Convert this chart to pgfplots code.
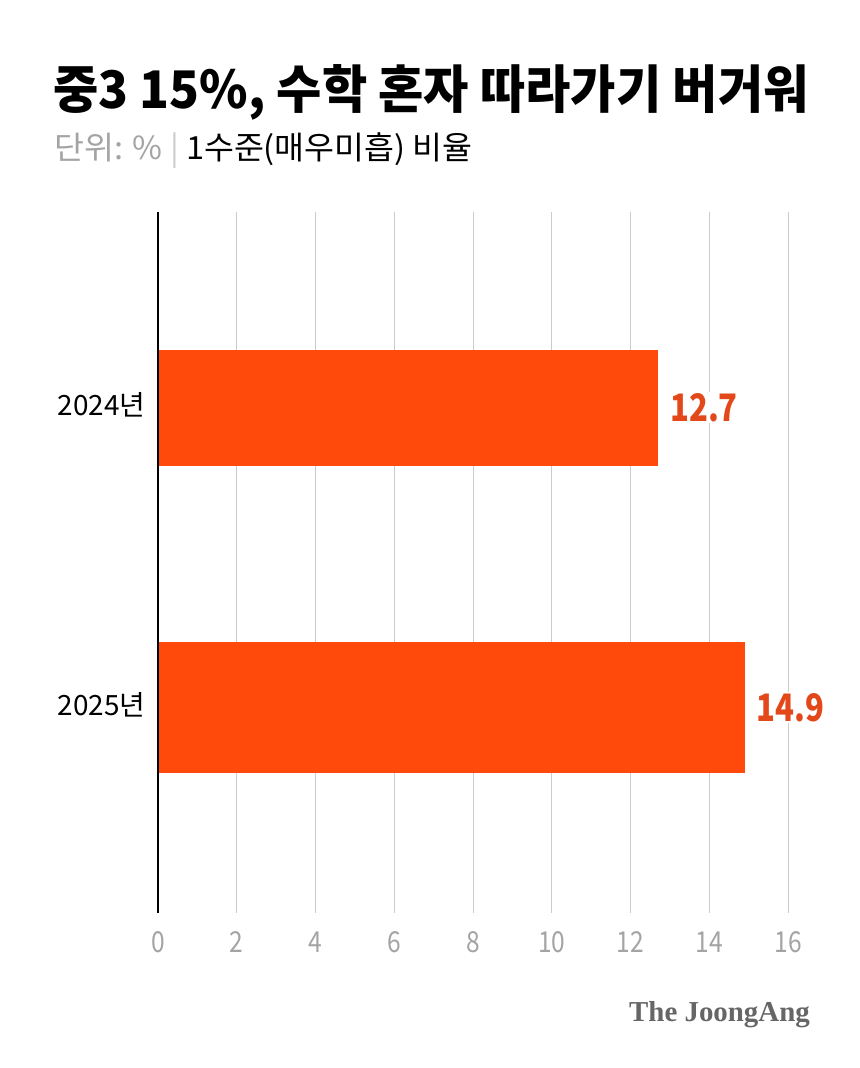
\documentclass[border=0pt]{standalone}
\usepackage{fontspec}
\usepackage{pgfplots}
\pgfplotsset{compat=1.18}
\setmainfont{Noto Sans CJK KR}
\newfontfamily\joong{Liberation Serif}
\definecolor{barc}{HTML}{FF4A0C}
\definecolor{labc}{HTML}{E2481A}
\definecolor{tickc}{HTML}{A4A4A4}
\definecolor{gridc}{HTML}{CCCCCC}
\begin{document}
\begin{tikzpicture}
\path[use as bounding box] (0bp,0bp) rectangle (860bp,-1068bp);
\fill[white] (0bp,0bp) rectangle (860bp,-1068bp);
\node[anchor=west,inner sep=0] at (53bp,-92bp) {\scalebox{0.95}[1]{\fontsize{52}{52}\selectfont\bfseries 중3 15\%, 수학 혼자 따라가기 버거워}};
\node[anchor=west,inner sep=0] at (54bp,-151bp) {\scalebox{1.02}[1]{\fontsize{32}{32}\selectfont{\color{tickc}단위: \%} {\color{gridc}|} 1수준(매우미흡) 비율}};
\begin{axis}[
  at={(158bp,-212bp)}, anchor=north west,
  scale only axis, width=630bp, height=701bp,
  xbar,
  xmin=0, xmax=16, ymin=0.347, ymax=2.683,
  y dir=reverse,
  axis line style={draw=none},
  xtick={0,2,...,16}, xticklabels={},
  ytick={0.99,1.99},
  yticklabels={2024년,2025년},
  clip=false,
  enlargelimits=false,
  tick style={draw=none},
  yticklabel style={font=\fontsize{28}{28}\selectfont, xshift=-5bp},
  point meta=explicit symbolic,
  nodes near coords={\scalebox{0.82}[1]{\pgfplotspointmeta}},
  nodes near coords style={font=\fontsize{38}{38}\selectfont\bfseries, color=labc, fill=white, inner sep=1bp, anchor=west, xshift=11bp},
]
\pgfplotsinvokeforeach{2,4,...,16}{\draw[gridc, line width=1bp] (axis cs:#1,0.347) -- (axis cs:#1,2.683);}
\pgfplotsinvokeforeach{0,2,...,16}{\node[tickc, font=\fontsize{29}{29}\selectfont, anchor=center] at ([yshift=-29bp]axis cs:#1,2.683) {\scalebox{0.85}[1]{#1}};}
\addplot[fill=barc, draw=none, bar width=116bp, bar shift=0pt] coordinates {(12.7,0.9985) [12.7]};
\addplot[fill=barc, draw=none, bar width=131bp, bar shift=0pt] coordinates {(14.9,1.9985) [14.9]};
\draw[black, line width=1.5bp] (axis cs:0,0.347) -- (axis cs:0,2.683);
\end{axis}
\node[anchor=east,inner sep=0] at (810bp,-1015bp) {\joong\fontsize{29}{29}\selectfont\bfseries\color[HTML]{666666} The JoongAng};
\end{tikzpicture}
\end{document}
